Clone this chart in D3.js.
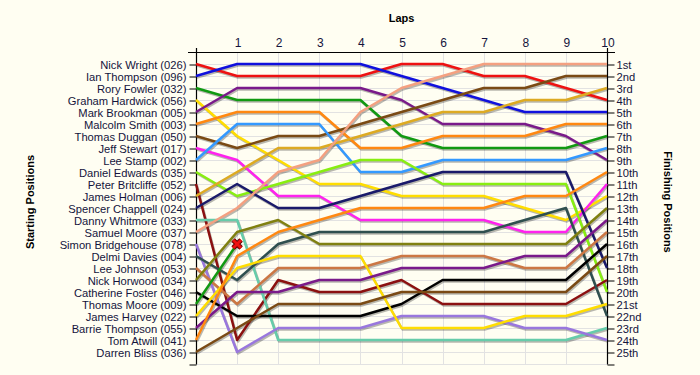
<!DOCTYPE html>
<html>
<head>
<meta charset="utf-8">
<script src="https://cdn.jsdelivr.net/npm/d3@7"></script>
<style>
  body { margin: 0; background: #FFFEF2; }
  svg { display: block; font-family: "Liberation Sans", Arial, sans-serif; }
</style>
</head>
<body>
<div id="chart"></div>
<script>
var drivers = [
    "Nick Wright (026)", "Ian Thompson (096)", "Rory Fowler (032)", "Graham Hardwick (056)",
    "Mark Brookman (005)", "Malcolm Smith (003)", "Thomas Duggan (050)", "Jeff Stewart (017)",
    "Lee Stamp (002)", "Daniel Edwards (035)", "Peter Britcliffe (052)", "James Holman (006)",
    "Spencer Chappell (024)", "Danny Whitmore (033)", "Samuel Moore (037)", "Simon Bridgehouse (078)",
    "Delmi Davies (004)", "Lee Johnson (053)", "Nick Horwood (034)", "Catherine Foster (046)",
    "Thomas Moore (009)", "James Harvey (022)", "Barrie Thompson (055)", "Tom Atwill (041)",
    "Darren Bliss (036)"
];

var colors = [
    "#ee1111", "#1010dd", "#119911", "#ffdd00", "#7a1a8a", "#ff8811", "#7a4a14", "#ff22ee",
    "#3399ff", "#88ee11", "#8b1010", "#ddaa22", "#1a1a6a", "#66ccaa", "#f4a080", "#9977dd",
    "#2f4f4f", "#cc7744", "#808010", "#000000", "#119911", "#ffdd00", "#7a1a8a", "#ff8811",
    "#7a4a14"
];

// position of each driver at laps 0..10 (Thomas Moore retired on lap 1)
var positions = [
    [1, 2, 2, 2, 2, 1, 1, 2, 2, 3, 4],
    [2, 1, 1, 1, 1, 2, 3, 4, 5, 5, 5],
    [3, 4, 4, 4, 4, 7, 8, 8, 8, 8, 7],
    [4, 7, 9, 11, 11, 12, 12, 12, 13, 14, 12],
    [5, 3, 3, 3, 3, 4, 6, 6, 6, 7, 9],
    [6, 5, 5, 5, 8, 8, 7, 7, 7, 6, 6],
    [7, 8, 7, 7, 6, 5, 4, 3, 3, 2, 2],
    [8, 9, 12, 12, 14, 14, 14, 14, 15, 15, 11],
    [9, 6, 6, 6, 10, 10, 9, 9, 9, 9, 8],
    [10, 12, 11, 10, 9, 9, 11, 11, 11, 11, 20],
    [11, 24, 19, 20, 20, 19, 21, 21, 21, 21, 19],
    [12, 10, 8, 8, 7, 6, 5, 5, 4, 4, 3],
    [13, 11, 13, 13, 12, 11, 10, 10, 10, 10, 18],
    [14, 14, 24, 24, 24, 24, 24, 24, 24, 24, 23],
    [15, 13, 10, 9, 5, 3, 2, 1, 1, 1, 1],
    [16, 25, 23, 23, 23, 22, 22, 22, 23, 23, 24],
    [17, 19, 16, 15, 15, 15, 15, 15, 14, 13, 22],
    [18, 21, 18, 18, 18, 17, 17, 17, 18, 18, 15],
    [19, 15, 14, 16, 16, 16, 16, 16, 16, 16, 13],
    [20, 22, 22, 22, 22, 21, 19, 19, 19, 19, 16],
    [21, 16],
    [22, 18, 17, 17, 17, 23, 23, 23, 22, 22, 21],
    [23, 20, 20, 19, 19, 18, 18, 18, 17, 17, 14],
    [24, 17, 15, 14, 13, 13, 13, 13, 12, 12, 10],
    [25, 23, 21, 21, 21, 20, 20, 20, 20, 20, 17]
];

var retired = [20];

var lapLabels = ["", "1", "2", "3", "4", "5", "6", "7", "8", "9", "10"];

var finishLabels = [
    "1st", "2nd", "3rd", "4th", "5th", "6th", "7th", "8th", "9th", "10th",
    "11th", "12th", "13th", "14th", "15th", "16th", "17th", "18th", "19th", "20th",
    "21st", "22nd", "23rd", "24th", "25th"
];

var w = 700, h = 375,
    plotL = 196, plotR = 607, plotT = 52, plotB = 364,
    textColor = "#14143c";

var svg = d3.select("#chart").append("svg")
    .attr("width", w)
    .attr("height", h);

svg.append("rect")
    .attr("width", w).attr("height", h)
    .attr("fill", "#FFFEF2");

var x = d3.scaleLinear().domain([0, lapLabels.length - 1]).range([plotL, plotR]);
var y = d3.scaleLinear().domain([0, finishLabels.length + 1]).range([plotT, plotB]);

var posTicks = d3.range(1, finishLabels.length + 2);

// grid
var grid = svg.append("g").attr("stroke", "#e2e2e2").attr("stroke-width", 1);
grid.selectAll(".v")
    .data(d3.range(1, lapLabels.length - 1))
    .enter().append("line")
    .attr("x1", function (d) { return Math.round(x(d)) + 0.5; })
    .attr("x2", function (d) { return Math.round(x(d)) + 0.5; })
    .attr("y1", plotT).attr("y2", plotB);
grid.selectAll(".h")
    .data(posTicks)
    .enter().append("line")
    .attr("x1", plotL).attr("x2", plotR)
    .attr("y1", function (d) { return Math.round(y(d)) + 0.5; })
    .attr("y2", function (d) { return Math.round(y(d)) + 0.5; });

// axes
var leftAxis = svg.append("g")
    .attr("transform", "translate(" + (plotL + 0.5) + ",0.5)")
    .call(d3.axisLeft(y)
        .tickValues(posTicks)
        .tickFormat(function (d) { return drivers[d - 1] || ""; })
        .tickSize(7).tickSizeOuter(0).tickPadding(3));

var rightAxis = svg.append("g")
    .attr("transform", "translate(" + (plotR + 0.5) + ",0.5)")
    .call(d3.axisRight(y)
        .tickValues(posTicks)
        .tickFormat(function (d) { return finishLabels[d - 1] || ""; })
        .tickSize(7).tickSizeOuter(0).tickPadding(2));

var topAxis = svg.append("g")
    .attr("transform", "translate(0.5," + (plotT + 0.5) + ")")
    .call(d3.axisTop(x)
        .tickValues(d3.range(0, lapLabels.length))
        .tickFormat(function (d) { return lapLabels[d]; })
        .tickSize(0).tickSizeOuter(0).tickPadding(6));

[leftAxis, rightAxis, topAxis].forEach(function (a) {
    a.select(".domain").remove();
    a.selectAll("line").attr("stroke", "#000");
    a.selectAll("text")
        .attr("fill", textColor)
        .attr("font-size", a === topAxis ? 12 : 11.2)
        .attr("font-family", "'Liberation Sans', Arial, sans-serif");
});

svg.append("path")
    .attr("d", "M" + (plotL + 0.5) + "," + (plotT - 4) + "V" + (plotB + 0.5))
    .attr("stroke", "#000").attr("stroke-width", 1.2);
svg.append("path")
    .attr("d", "M" + (plotR + 0.5) + "," + (plotT - 4) + "V" + (plotB + 0.5))
    .attr("stroke", "#000").attr("stroke-width", 1.2);
svg.append("path")
    .attr("d", "M" + (plotL - 8) + "," + (plotT + 0.5) + "H" + (plotR + 8))
    .attr("stroke", "#000").attr("stroke-width", 1.2);

// titles
svg.append("text")
    .attr("x", (plotL + plotR) / 2).attr("y", 22)
    .attr("text-anchor", "middle")
    .attr("font-size", 11).attr("font-weight", "bold")
    .text("Laps");

svg.append("text")
    .attr("transform", "translate(34,202) rotate(-90)")
    .attr("text-anchor", "middle")
    .attr("font-size", 11).attr("font-weight", "bold")
    .text("Starting Positions");

svg.append("text")
    .attr("transform", "translate(664,202) rotate(90)")
    .attr("text-anchor", "middle")
    .attr("font-size", 11).attr("font-weight", "bold")
    .text("Finishing Positions");

// lines
var line = d3.line()
    .x(function (d, i) { return x(i); })
    .y(function (d) { return y(d); });

var series = svg.append("g");

series.selectAll(".shadow")
    .data(positions)
    .enter().append("path")
    .attr("class", "shadow")
    .attr("d", line)
    .attr("transform", "translate(1,1.5)")
    .attr("fill", "none")
    .attr("stroke", "rgba(0,0,0,0.28)")
    .attr("stroke-width", 2.5)
    .attr("stroke-linejoin", "round");

series.selectAll(".lap-line")
    .data(positions)
    .enter().append("path")
    .attr("class", "lap-line")
    .attr("d", line)
    .attr("fill", "none")
    .attr("stroke", function (d, i) { return colors[i]; })
    .attr("stroke-width", 2.5)
    .attr("stroke-linejoin", "round");

// retirement marker
var marks = svg.append("g").selectAll("g")
    .data(retired)
    .enter().append("g")
    .attr("transform", function (d) {
        var p = positions[d];
        return "translate(" + x(p.length - 1) + "," + y(p[p.length - 1]) + ")";
    });
marks.append("path")
    .attr("d", "M-4,-4L4,4M4,-4L-4,4")
    .attr("stroke", "#600")
    .attr("stroke-width", 5);
marks.append("path")
    .attr("d", "M-4,-4L4,4M4,-4L-4,4")
    .attr("stroke", "#ee1111")
    .attr("stroke-width", 3);
</script>
</body>
</html>
